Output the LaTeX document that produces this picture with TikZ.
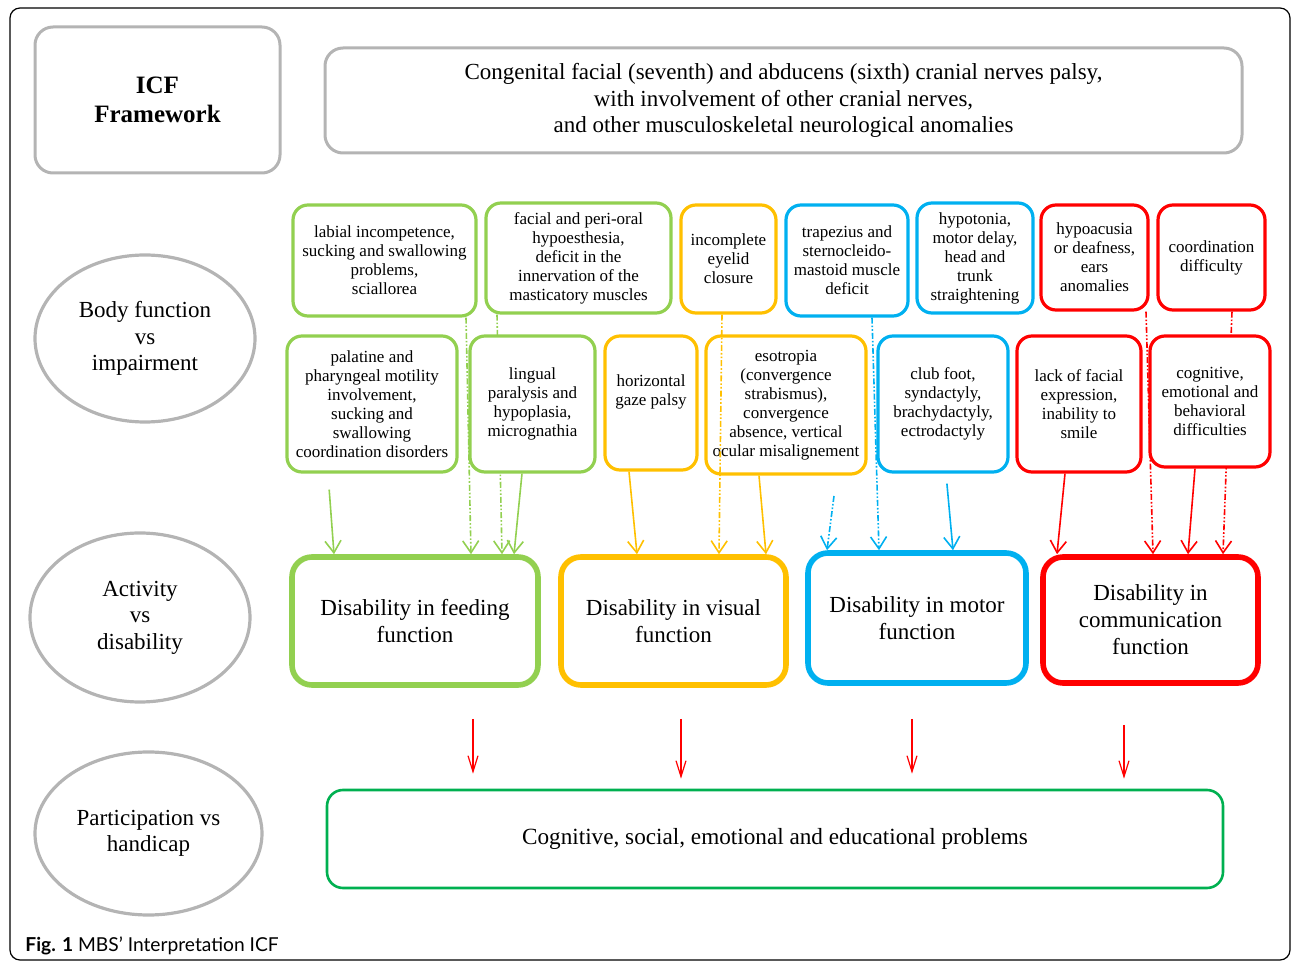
\documentclass[tikz,border=0pt]{standalone}
\usepackage{fontspec}
\setmainfont{Liberation Serif}
\newfontfamily\captionfont{Lato}
\usetikzlibrary{arrows.meta,backgrounds,shapes.geometric}
\definecolor{feedgreen}{RGB}{146,208,80}
\definecolor{visorange}{RGB}{255,192,0}
\definecolor{motorblue}{RGB}{0,176,240}
\definecolor{commred}{RGB}{255,0,0}
\definecolor{partgreen}{RGB}{0,176,80}
\definecolor{framegray}{RGB}{180,180,180}
\tikzstyle{framebox}  = [shape=rectangle,rounded corners=9pt,draw=framegray,line width=1.5pt,align=center]
\tikzstyle{stage}     = [shape=ellipse,draw=framegray,line width=1.6pt,align=center,font=\fontsize{11.5}{13.3}\selectfont]
\tikzstyle{impair}    = [shape=rectangle,rounded corners=7.5pt,line width=1.6pt,fill=white,align=center,inner sep=1pt,font=\fontsize{8.5}{9.5}\selectfont]
\tikzstyle{disab}     = [shape=rectangle,rounded corners=10pt,line width=2.8pt,fill=white,align=center,font=\fontsize{11.5}{13.5}\selectfont]
\tikzstyle{solidlink} = [-{Straight Barb[length=6pt,width=8pt]},line width=0.8pt]
\tikzstyle{dashlink}  = [solidlink,dash pattern=on 3pt off 1pt on 0.8pt off 1pt on 0.8pt off 1pt]
\tikzstyle{handlink}  = [-{Straight Barb[length=8pt,width=5pt]},line width=0.6pt,draw=commred]

\begin{document}
\begin{tikzpicture}[x=0.5pt,y=-0.5pt]
  \useasboundingbox (0,0) rectangle (1292,962);
  \draw[rounded corners=5pt,line width=0.6pt] (10,8) rectangle (1290,960);

  % ICF levels
  \node[framebox,minimum width=122.5pt,minimum height=73pt,font=\fontsize{12.5}{14.5}\selectfont\bfseries] (icf) at (157.5,100) {ICF\\Framework};
  \node[framebox,minimum width=458.5pt,minimum height=52.5pt,font=\fontsize{11.5}{13.25}\selectfont] (cause) at (783.5,100.5)
    {Congenital facial (seventh) and abducens (sixth) cranial nerves palsy,\\with involvement of other cranial nerves,\\and other musculoskeletal neurological anomalies};
  \node[stage,minimum width=110pt,minimum height=83.5pt] (body) at (145,338.5) {Body function\\vs\\impairment};
  \node[stage,minimum width=110pt,minimum height=84.5pt] (activity) at (140,617.5) {Activity\\vs\\disability};
  \node[stage,minimum width=113.5pt,minimum height=81.5pt] (particip) at (148.5,833.5) {Participation vs\\handicap};

  % Body function, first row
  \node[impair,draw=feedgreen,minimum width=91.5pt,minimum height=55.5pt] (b1) at (384.5,260.5) {labial incompetence,\\sucking and swallowing\\problems,\\sciallorea};
  \node[impair,draw=feedgreen,minimum width=92.5pt,minimum height=55pt] (b2) at (578.5,258) {facial and peri-oral\\hypoesthesia,\\deficit in the\\innervation of the\\masticatory muscles};
  \node[impair,draw=visorange,minimum width=47.5pt,minimum height=54pt] (b3) at (728.5,259) {incomplete\\eyelid\\closure};
  \node[impair,draw=motorblue,minimum width=61pt,minimum height=55.5pt] (b4) at (847,260.5) {trapezius and\\sternocleido-\\mastoid muscle\\deficit};
  \node[impair,draw=motorblue,minimum width=58pt,minimum height=55pt] (b5) at (975,258) {hypotonia,\\motor delay,\\head and\\trunk\\straightening};
  \node[impair,draw=commred,minimum width=53.5pt,minimum height=52.5pt] (b6) at (1094.5,257.5) {hypoacusia\\or deafness,\\ears\\anomalies};
  \node[impair,draw=commred,minimum width=53.5pt,minimum height=52.5pt] (b7) at (1211.5,257.5) {coordination\\difficulty};

  % Body function, second row
  \node[impair,draw=feedgreen,minimum width=85pt,minimum height=68pt] (m1) at (372,404) {palatine and\\pharyngeal motility\\involvement,\\sucking and\\swallowing\\coordination disorders};
  \node[impair,draw=feedgreen,minimum width=62.5pt,minimum height=68pt] (m2) at (532.5,404) {lingual\\paralysis and\\hypoplasia,\\micrognathia};
  \node[impair,draw=visorange,minimum width=46pt,minimum height=67pt] (m3) at (651,403) {horizontal\\gaze palsy\\[3.5pt]};
  \node[impair,draw=visorange,minimum width=80pt,minimum height=69pt] (m4) at (786,405) {esotropia\\(convergence\\strabismus),\\convergence\\absence, vertical\\ocular misalignement};
  \node[impair,draw=motorblue,minimum width=65pt,minimum height=68pt] (m5) at (943,404) {club foot,\\syndactyly,\\brachydactyly,\\ectrodactyly};
  \node[impair,draw=commred,minimum width=62pt,minimum height=68pt] (m6) at (1079,404) {lack of facial\\expression,\\inability to\\smile};
  \node[impair,draw=commred,minimum width=60pt,minimum height=65.5pt] (m7) at (1210,401.5) {cognitive,\\emotional and\\behavioral\\difficulties};

  % Activity
  \node[disab,draw=feedgreen,minimum width=123pt,minimum height=64pt] (a1) at (415,621) {Disability in feeding\\function};
  \node[disab,draw=visorange,minimum width=112.5pt,minimum height=64pt] (a2) at (673.5,621) {Disability in visual\\function};
  \node[disab,draw=motorblue,minimum width=109pt,minimum height=65pt] (a3) at (917,618) {Disability in motor\\function};
  \node[disab,draw=commred,minimum width=107.5pt,minimum height=63pt] (a4) at (1150.5,620) {Disability in\\communication\\function};

  % Participation
  \node[shape=rectangle,rounded corners=8pt,draw=partgreen,line width=1.3pt,minimum width=448pt,minimum height=49pt,font=\fontsize{11.6}{13}\selectfont] (p) at (775,839)
    {Cognitive, social, emotional and educational problems};

  \node[anchor=base west,inner sep=0pt,font=\captionfont\fontsize{9.6}{11}\selectfont] (caption) at (25,951) {\textbf{Fig. 1} MBS’ Interpretation ICF};

  \coordinate (loose) at (834,496);

  \begin{scope}[on background layer]
    % feeding
    \draw[solidlink,feedgreen,shorten <=8pt] (m1.south -| 328,0) -- (a1.north -| 334,0);
    \draw[dashlink,feedgreen] (b1.south -| 466,0) -- (a1.north -| 471,0);
    \draw[dashlink,feedgreen] (b2.south -| 497,0) -- (a1.north -| 502,0);
    \draw[solidlink,feedgreen] (m2.south -| 522,0) -- (a1.north -| 514,0);
    % visual
    \draw[solidlink,visorange] (m3.south -| 629,0) -- (a2.north -| 637,0);
    \draw[solidlink,visorange] (m4.south -| 759,0) -- (a2.north -| 766,0);
    % motor
    \draw[dashlink,motorblue] (loose) -- (a3.north -| 827,0);
    \draw[dashlink,motorblue] (b4.south -| 872,0) -- (a3.north -| 879,0);
    \draw[solidlink,motorblue,shorten <=5pt] (m5.south -| 946,0) -- (a3.north -| 953,0);
    % communication
    \draw[solidlink,commred] (m6.south -| 1065,0) -- (a4.north -| 1057,0);
    \draw[dashlink,commred] (b6.south -| 1146,0) -- (a4.north -| 1153,0);
    \draw[solidlink,commred] (m7.south -| 1195,0) -- (a4.north -| 1188,0);
    \draw[dashlink,commred] (b7.south -| 1232,0) -- (a4.north -| 1223,0);
  \end{scope}
  \draw[dashlink,visorange] (b3.south -| 722,0) -- (a2.north -| 719,0);

  % towards participation
  \draw[handlink,shorten <=15.5pt,shorten >=7.5pt] (a1.south -| 473,0) -- (p.north -| 473,0);
  \draw[handlink,shorten <=15.5pt,shorten >=5pt] (a2.south -| 681,0) -- (p.north -| 681,0);
  \draw[handlink,shorten <=16.5pt,shorten >=7.5pt] (a3.south -| 912,0) -- (p.north -| 912,0);
  \draw[handlink,shorten <=19.5pt,shorten >=5pt] (a4.south -| 1124,0) -- (p.north -| 1124,0);
\end{tikzpicture}
\end{document}
